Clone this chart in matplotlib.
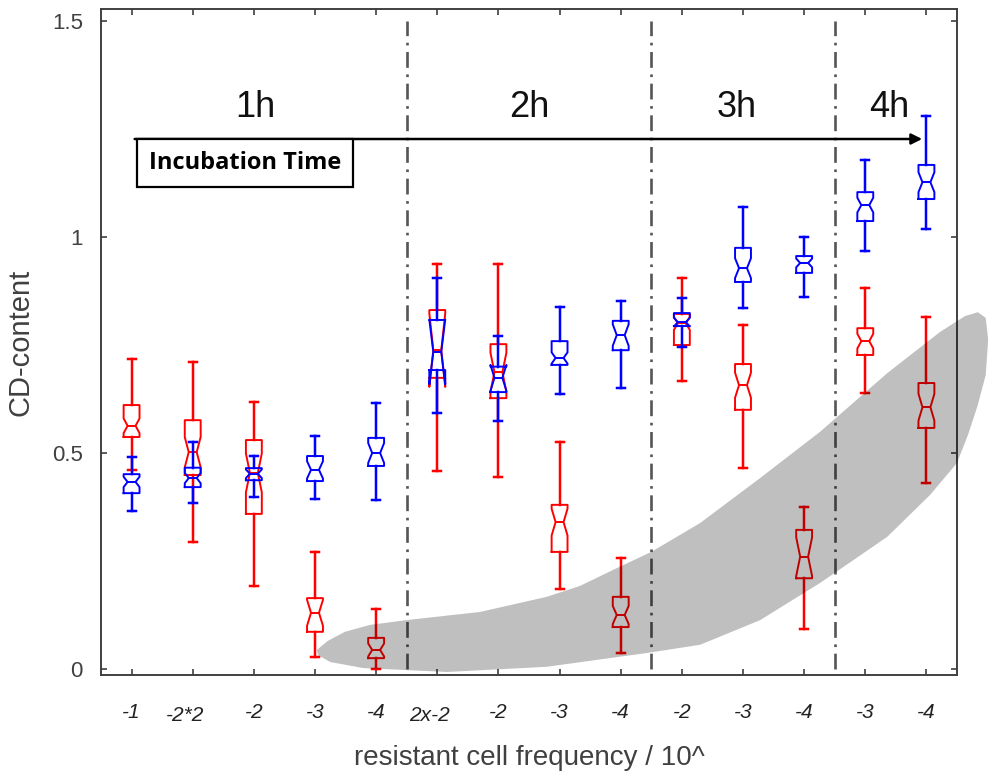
import numpy as np
import matplotlib
matplotlib.use('Agg')
import matplotlib.pyplot as plt
from matplotlib.patches import Polygon
from matplotlib.transforms import ScaledTranslation

plt.rcParams['font.family'] = ['Liberation Sans', 'DejaVu Sans']

# box positions and tick labels (resistant cell frequency / 10^)
positions = np.arange(1, 15)
tick_labels = ['-1', '-2*2', '-2', '-3', '-4', '2x-2', '-2', '-3', '-4',
               '-2', '-3', '-4', '-3', '-4']

# blue series: whisker low, q1, median, q3, whisker high, notch half height
blue_lo = [0.366, 0.384, 0.398, 0.393, 0.391, 0.593, 0.574, 0.637, 0.650, 0.745, 0.836, 0.861, 0.968, 1.018]
blue_q1 = [0.407, 0.421, 0.437, 0.435, 0.470, 0.692, 0.641, 0.704, 0.738, 0.794, 0.896, 0.917, 1.037, 1.088]
blue_med = [0.433, 0.442, 0.452, 0.461, 0.500, 0.734, 0.674, 0.720, 0.773, 0.803, 0.928, 0.940, 1.074, 1.127]
blue_q3 = [0.451, 0.466, 0.465, 0.493, 0.535, 0.808, 0.700, 0.759, 0.806, 0.824, 0.975, 0.956, 1.104, 1.167]
blue_hi = [0.490, 0.526, 0.493, 0.539, 0.616, 0.905, 0.771, 0.838, 0.852, 0.859, 1.070, 1.000, 1.178, 1.280]
blue_notch = [0.012, 0.012, 0.010, 0.020, 0.023, 0.075, 0.030, 0.013, 0.025, 0.010, 0.023, 0.010, 0.017, 0.023]

# red series
red_lo = [0.460, 0.294, 0.192, 0.028, 0.000, 0.458, 0.444, 0.185, 0.037, 0.667, 0.465, 0.093, 0.639, 0.430]
red_q1 = [0.537, 0.449, 0.359, 0.086, 0.025, 0.674, 0.627, 0.271, 0.097, 0.750, 0.600, 0.210, 0.727, 0.558]
red_med = [0.563, 0.502, 0.454, 0.130, 0.044, 0.738, 0.687, 0.340, 0.125, 0.800, 0.657, 0.260, 0.759, 0.606]
red_q3 = [0.611, 0.576, 0.530, 0.164, 0.072, 0.831, 0.752, 0.380, 0.167, 0.822, 0.706, 0.322, 0.789, 0.662]
red_hi = [0.718, 0.710, 0.618, 0.271, 0.139, 0.937, 0.937, 0.525, 0.257, 0.905, 0.796, 0.375, 0.882, 0.815]
red_notch = [0.017, 0.035, 0.045, 0.030, 0.015, 0.085, 0.045, 0.031, 0.021, 0.015, 0.029, 0.045, 0.017, 0.031]

# incubation time groups
group_names = ['1h', '2h', '3h', '4h']
group_label_x = [3.03, 7.5, 10.89, 13.4]
group_bounds = [5.5, 9.5, 12.5]

# gray highlight outline (data coords)
blob_x = [4.03, 4.21, 4.49, 4.90, 5.49, 6.70, 7.79, 8.33, 8.87, 9.50, 10.30, 11.28, 12.26, 13.36,
          14.22, 14.63, 14.84, 14.97, 15.01, 14.97, 14.84, 14.68, 14.50,
          14.06, 13.36, 12.26, 11.28, 10.30, 9.43, 8.61, 7.79, 6.16, 4.79, 4.25, 4.05]
blob_y = [0.044, 0.065, 0.086, 0.102, 0.113, 0.132, 0.167, 0.192, 0.229, 0.271, 0.338, 0.442, 0.549, 0.685,
          0.780, 0.817, 0.826, 0.813, 0.762, 0.681, 0.611, 0.542, 0.477,
          0.403, 0.306, 0.199, 0.113, 0.056, 0.037, 0.021, 0.005, -0.007, 0.002, 0.016, 0.032]


def make_stats(lo, q1, med, q3, hi, notch):
    out = []
    for a, b, c, d, e, n in zip(lo, q1, med, q3, hi, notch):
        out.append(dict(whislo=a, q1=b, med=c, q3=d, whishi=e,
                        cilo=c - n, cihi=c + n, fliers=[]))
    return out


def draw_boxes(ax, stats, color, z):
    lw = 1.4
    ax.bxp(stats, positions=positions, widths=0.26, capwidths=0.13,
           shownotches=True, showfliers=False, manage_ticks=False,
           boxprops=dict(color=color, lw=lw, zorder=z),
           whiskerprops=dict(color=color, lw=lw + 0.4, zorder=z),
           capprops=dict(color=color, lw=lw + 0.4, zorder=z),
           medianprops=dict(color=color, lw=lw, zorder=z))


fig = plt.figure(figsize=(9.88, 7.74), dpi=100)
ax = fig.add_axes([101 / 988, 99 / 774, 856 / 988, 666 / 774])

draw_boxes(ax, make_stats(red_lo, red_q1, red_med, red_q3, red_hi, red_notch), '#ff0000', 3)
draw_boxes(ax, make_stats(blue_lo, blue_q1, blue_med, blue_q3, blue_hi, blue_notch), '#0000ff', 4)

for xb in group_bounds:
    ax.plot([xb, xb], [0, 1.5], color='#555555', lw=1.9,
            linestyle=(0, (6, 2.5, 1, 2.5)), zorder=2)

for name, xl in zip(group_names, group_label_x):
    ax.text(xl, 1.3, name, fontsize=26, ha='center', va='center', color='#111111')

ax.annotate('', xy=(13.93, 1.227), xytext=(1.05, 1.227),
            arrowprops=dict(arrowstyle='-|>', color='black', lw=1.8,
                            mutation_scale=16, shrinkA=0, shrinkB=0))
ax.text(2.86, 1.172, 'Incubation Time', fontsize=17, family='Open Sans',
        fontweight='bold', ha='center', va='center', zorder=6,
        bbox=dict(boxstyle='square,pad=0.5', fc='white', ec='black', lw=1.6))

blob = Polygon(np.column_stack([blob_x, blob_y]), closed=True, fc='black',
               ec='none', alpha=0.25, zorder=5, clip_on=False)
ax.add_patch(blob)

ax.set_xlim(0.5, 14.5)
ax.set_ylim(-0.014, 1.528)
ax.set_yticks([0, 0.5, 1, 1.5])
ax.set_yticklabels(['0', '0.5', '1', '1.5'])
ax.set_xticks(positions)
ax.set_xticklabels(tick_labels, fontstyle='italic', fontsize=15, color='#222222')
ax.tick_params(direction='in', top=True, right=True, length=4, width=1.2,
               color='#404040')
ax.tick_params(axis='x', pad=20)
ax.tick_params(axis='y', labelsize=16, labelcolor='#404040', pad=13)

# nudge the two wide tick labels to the left like the original
for i in (1, 5):
    lab = ax.get_xticklabels()[i]
    lab.set_transform(lab.get_transform() + ScaledTranslation(-8 / 100, -3 / 100, fig.dpi_scale_trans))

for sp in ax.spines.values():
    sp.set_color('#404040')
    sp.set_linewidth(1.4)

ax.set_xlabel('resistant cell frequency / 10^', fontsize=20, color='#404040')
ax.xaxis.set_label_coords(0.5, -0.105)
ax.set_ylabel('CD-content', fontsize=21, color='#404040')
ax.yaxis.set_label_coords(-0.078, 0.5)

fig.savefig('out.png', dpi=100)
